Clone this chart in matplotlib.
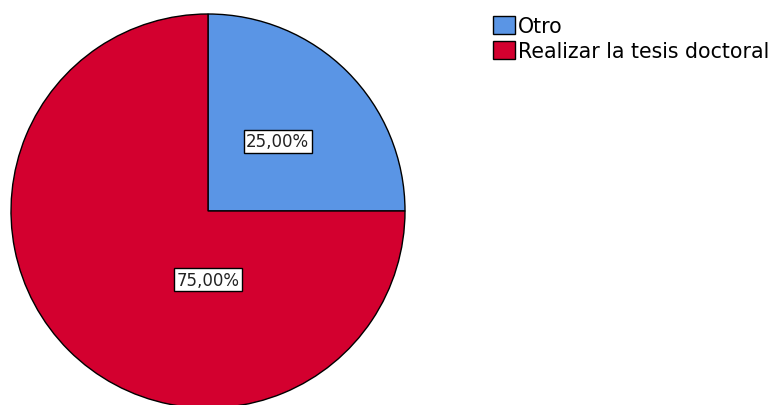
import numpy as np
import matplotlib
matplotlib.use("Agg")
import matplotlib.pyplot as plt

labels = ["Otro", "Realizar la tesis doctoral"]
values = [25.0, 75.0]
colors = ["#5a95e5", "#d3002f"]

fig = plt.figure(figsize=(7.74, 4.06), dpi=100)
ax = fig.add_axes([0, 0, 1, 1])

cx, cy, r = 208, 194, 197

wedges, texts, autotexts = ax.pie(
    values, colors=colors, startangle=90, counterclock=False,
    center=(cx, cy), radius=r, frame=True,
    autopct=lambda p: f"{p:.2f}%".replace(".", ","), pctdistance=0.5,
    wedgeprops=dict(edgecolor="black", linewidth=1),
    textprops=dict(fontsize=12, color="#222222"),
)
ax.set_xlim(0, 774)
ax.set_ylim(0, 406)
ax.set_aspect("equal")
ax.axis("off")

# SPSS puts the big slice label straight below the centre
ang = np.deg2rad(270)
autotexts[1].set_position((cx + 0.35 * r * np.cos(ang), cy + 0.35 * r * np.sin(ang)))
for t in autotexts:
    t.set_bbox(dict(facecolor="white", edgecolor="black", linewidth=1, pad=0.15, boxstyle="square"))

fig.legend(wedges, labels, loc="upper left", bbox_to_anchor=(493 / 774, 1 - 17 / 406),
           frameon=False, fontsize=14.8, handlelength=1.05, handleheight=0.97,
           handletextpad=0.15, labelspacing=0.25, borderaxespad=0, borderpad=0)

fig.savefig("out.png", dpi=100)
